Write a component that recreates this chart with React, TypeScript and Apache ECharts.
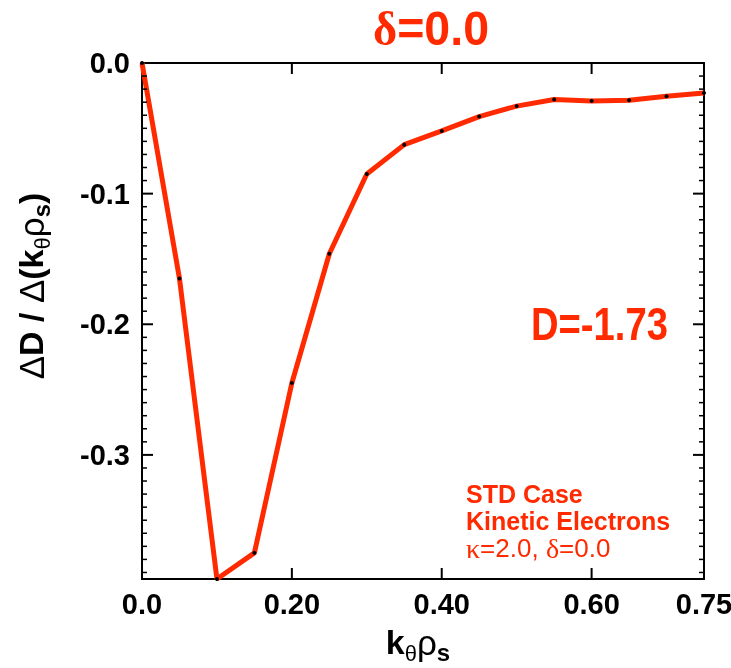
import React, { useEffect, useRef } from 'react';
import * as echarts from 'echarts';

// k_theta rho_s values (x) and dD/d(k_theta rho_s) values (y)
const kValues = [0.0, 0.05, 0.1, 0.15, 0.2, 0.25, 0.3, 0.35, 0.4, 0.45, 0.5, 0.55, 0.6, 0.65, 0.7, 0.75];
const derivValues = [0.0, -0.165, -0.395, -0.375, -0.245, -0.146, -0.085, -0.0625, -0.052, -0.041, -0.033, -0.028, -0.029, -0.0285, -0.0255, -0.023];

// axis ranges and tick values
const xRange = [0, 0.75];
const yRange = [-0.395, 0];
const xMajorTicks = [0.2, 0.4, 0.6];
const yMajorTicks = [-0.3, -0.2, -0.1];
const yMinorTicks = [
  -0.39, -0.38, -0.37, -0.36, -0.35, -0.34, -0.33, -0.32, -0.31,
  -0.29, -0.28, -0.27, -0.26, -0.25, -0.24, -0.23, -0.22, -0.21,
  -0.19, -0.18, -0.17, -0.16, -0.15, -0.14, -0.13, -0.12, -0.11,
  -0.09, -0.08, -0.07, -0.06, -0.05, -0.04, -0.03, -0.02, -0.01,
];

const titleText = '=0.0';
const dValueText = 'D=-1.73';
const noteLines = ['STD Case', 'Kinetic Electrons'];

const RED = '#ff2a00';
const SANS = '"Liberation Sans", Arial, Helvetica, sans-serif';
const SERIF = '"Liberation Serif", "Times New Roman", serif';

export default function App() {
  const ref = useRef<HTMLDivElement>(null);

  useEffect(() => {
    if (!ref.current) return;
    const chart = echarts.init(ref.current, null, { renderer: 'svg' });

    const data = kValues.map((k, i) => [k, derivValues[i]]);

    const axisLine = () => ({ show: true, onZero: false, lineStyle: { color: '#000', width: 2 } });

    const rich = {
      b: { fontFamily: SANS, fontWeight: 'bold', fontSize: 34, lineHeight: 44, verticalAlign: 'middle', fill: '#000' },
      g: { fontFamily: SANS, fontWeight: 'normal', fontSize: 35, lineHeight: 44, verticalAlign: 'middle', fill: '#000' },
      th: { fontFamily: SANS, fontWeight: 'normal', fontSize: 22, lineHeight: 26, verticalAlign: 'bottom', fill: '#000' },
      s: { fontFamily: SANS, fontWeight: 'bold', fontSize: 24, lineHeight: 24, verticalAlign: 'bottom', fill: '#000' },
    };

    chart.setOption({
      animation: false,
      grid: { left: 142, right: 27, top: 63, bottom: 89, outerBoundsMode: 'none' },
      xAxis: [
        {
          type: 'value',
          min: xRange[0],
          max: xRange[1],
          interval: 0.2,
          axisLine: axisLine(),
          splitLine: { show: false },
          axisTick: { show: false },
          axisLabel: {
            show: true,
            margin: 10,
            color: '#000',
            fontFamily: SANS,
            fontWeight: 'bold',
            fontSize: 29,
            formatter: (v: number) => (v === 0 ? '0.0' : v.toFixed(2)),
          },
        },
        {
          type: 'value',
          min: xRange[0],
          max: xRange[1],
          interval: 0.2,
          position: 'top',
          axisLine: axisLine(),
          splitLine: { show: false },
          axisTick: { show: false },
          axisLabel: { show: false },
        },
      ],
      yAxis: [
        {
          type: 'value',
          min: yRange[0],
          max: yRange[1],
          splitNumber: 4,
          axisLine: axisLine(),
          splitLine: { show: false },
          axisTick: { show: false },
          axisLabel: {
            show: true,
            margin: 12,
            color: '#000',
            fontFamily: SANS,
            fontWeight: 'bold',
            fontSize: 29,
            formatter: (v: number) => (v === 0 ? '0.0' : v < -0.35 ? '' : v.toFixed(1)),
          },
        },
        {
          type: 'value',
          min: yRange[0],
          max: yRange[1],
          splitNumber: 4,
          position: 'right',
          axisLine: axisLine(),
          splitLine: { show: false },
          axisTick: { show: false },
          axisLabel: { show: false },
        },
      ],
      series: [
        {
          type: 'line',
          data,
          symbol: 'circle',
          symbolSize: 4,
          showAllSymbol: true,
          lineStyle: { color: RED, width: 5 },
          itemStyle: { color: '#000' },
        },
      ],
    });

    // tick marks placed through the chart's own scales
    const px = (x: number, y: number) => chart.convertToPixel({ seriesIndex: 0 } as any, [x, y]) as number[];
    const tickEls: any[] = [];
    const seg = (x1: number, y1: number, x2: number, y2: number, w: number) =>
      tickEls.push({ type: 'line', silent: true, z: 50, shape: { x1, y1, x2, y2 }, style: { stroke: '#000', lineWidth: w } });
    xMajorTicks.forEach((v) => {
      const b = px(v, yRange[0]);
      const t = px(v, yRange[1]);
      seg(b[0], b[1], b[0], b[1] - 11, 2);
      seg(t[0], t[1], t[0], t[1] + 11, 2);
    });
    yMajorTicks.forEach((v) => {
      const l = px(xRange[0], v);
      const r = px(xRange[1], v);
      seg(l[0], l[1], l[0] + 11, l[1], 2);
      seg(r[0], r[1], r[0] - 11, r[1], 2);
    });
    yMinorTicks.forEach((v) => {
      const l = px(xRange[0], v);
      const r = px(xRange[1], v);
      seg(l[0], l[1], l[0] + 5, l[1], 1.5);
      seg(r[0], r[1], r[0] - 5, r[1], 1.5);
    });

    const textEls: any[] = [
      {
        type: 'text',
        x: 418,
        y: 642,
        style: { text: '{b|k}{th|θ}{g|ρ}{s|s}', align: 'center', verticalAlign: 'middle', rich },
      },
      {
        type: 'text',
        x: 31,
        y: 286,
        rotation: Math.PI / 2,
        style: {
          text: '{g|Δ}{b|D / }{g|Δ}{b|(k}{th|θ}{g|ρ}{s|s}{b|)}',
          align: 'center',
          verticalAlign: 'middle',
          rich,
        },
      },
      {
        type: 'text',
        x: 431,
        y: 28,
        scaleX: 0.95,
        style: {
          text: '{d|δ}{t|' + titleText + '}',
          align: 'center',
          verticalAlign: 'middle',
          rich: {
            d: { fontFamily: SERIF, fontWeight: 'bold', fontSize: 49, fill: RED, lineHeight: 56 },
            t: { fontFamily: SANS, fontWeight: 'bold', fontSize: 49, fill: RED, lineHeight: 56 },
          },
        },
      },
      {
        type: 'text',
        x: 531,
        y: 324,
        scaleX: 0.83,
        style: {
          text: dValueText,
          fontFamily: SANS,
          fontWeight: 'bold',
          fontSize: 46,
          fill: RED,
          align: 'left',
          verticalAlign: 'middle',
        },
      },
      {
        type: 'text',
        x: 466,
        y: 494,
        style: {
          text: noteLines[0],
          fontFamily: SANS,
          fontWeight: 'bold',
          fontSize: 25,
          fill: RED,
          align: 'left',
          verticalAlign: 'middle',
        },
      },
      {
        type: 'text',
        x: 466,
        y: 521,
        style: {
          text: noteLines[1],
          fontFamily: SANS,
          fontWeight: 'bold',
          fontSize: 25,
          fill: RED,
          align: 'left',
          verticalAlign: 'middle',
        },
      },
      {
        type: 'text',
        x: 466,
        y: 548,
        style: {
          text: '{g|κ}{n|=2.0, }{g|δ}{n|=0.0}',
          align: 'left',
          verticalAlign: 'middle',
          rich: {
            g: { fontFamily: SERIF, fontSize: 28, fill: RED },
            n: { fontFamily: SANS, fontSize: 26, fill: RED },
          },
        },
      },
    ];

    chart.setOption({ graphic: [...textEls, ...tickEls] });

    return () => {
      chart.dispose();
    };
  }, []);

  return <div ref={ref} style={{ position: 'fixed', left: 0, top: 0, width: 731, height: 668 }} />;
}
